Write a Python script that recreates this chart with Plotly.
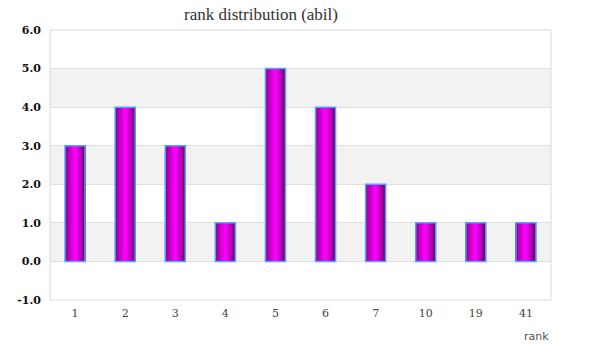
import plotly.graph_objects as go
from plotly.colors import sample_colorscale

ranks = ["1", "2", "3", "4", "5", "6", "7", "10", "19", "41"]
counts = [3, 4, 3, 1, 5, 4, 2, 1, 1, 1]
y_ticks = [-1, 0, 1, 2, 3, 4, 5, 6]
y_ticktext = [f"{v:.1f}" for v in y_ticks]

fig = go.Figure()

# horizontal gradient across each bar via thin slices
N = 20
bar_w = 0.4
grad = [[0.0, "#8a008a"], [0.5, "#ff00ff"], [0.6, "#f000f0"], [1.0, "#700070"]]
cols = sample_colorscale(grad, [(i + 0.5) / N for i in range(N)])
sw = bar_w / N
for i, c in enumerate(cols):
    fig.add_trace(go.Bar(x=ranks, y=counts, width=sw * 1.15, offset=-bar_w / 2 + i * sw,
                         marker=dict(color=c, line=dict(width=0)),
                         hoverinfo="skip", showlegend=False))
fig.add_trace(go.Bar(x=ranks, y=counts, width=bar_w, offset=-bar_w / 2,
                     marker=dict(color="rgba(0,0,0,0)", line=dict(color="#4da3ff", width=1.5)),
                     showlegend=False, name="count"))

shapes = []
for lo in [0, 2, 4]:
    shapes.append(dict(type="rect", xref="paper", yref="y", x0=0, x1=1, y0=lo, y1=lo + 1,
                       fillcolor="#f2f2f2", line=dict(width=0), layer="below"))
shapes.append(dict(type="rect", xref="paper", yref="paper", x0=0, x1=1, y0=0, y1=1,
                   line=dict(color="#d9d9d9", width=1), layer="below"))

W, H = 600, 360
fig.update_layout(
    width=W, height=H,
    margin=dict(l=50, r=49, t=30, b=60),
    paper_bgcolor="white", plot_bgcolor="white",
    barmode="overlay",
    title=dict(text="rank distribution (abil)", x=261 / W, xanchor="center", y=1 - 14 / H, yanchor="middle",
               font=dict(family="Liberation Serif", size=17, color="#333333")),
    shapes=shapes,
    xaxis=dict(type="category", showgrid=False, showline=False, ticks="",
               tickfont=dict(family="DejaVu Serif", size=11, color="#444444"), ticklabelstandoff=5),
    yaxis=dict(range=[-1, 6], tickvals=y_ticks, ticktext=y_ticktext, showgrid=True,
               gridcolor="#e0e0e0", gridwidth=1, zeroline=False, showline=False,
               tickfont=dict(family="DejaVu Serif", size=11, color="#111111", weight="bold"),
               ticklabelstandoff=8),
    annotations=[dict(text="rank", xref="paper", yref="paper", x=1, y=0, xanchor="right",
                      yanchor="top", yshift=-28, showarrow=False,
                      font=dict(family="DejaVu Sans", size=11, color="#555555"))],
)

fig.write_html("out.html", config={"displayModeBar": False},
               post_script="document.body.style.margin='0';")
